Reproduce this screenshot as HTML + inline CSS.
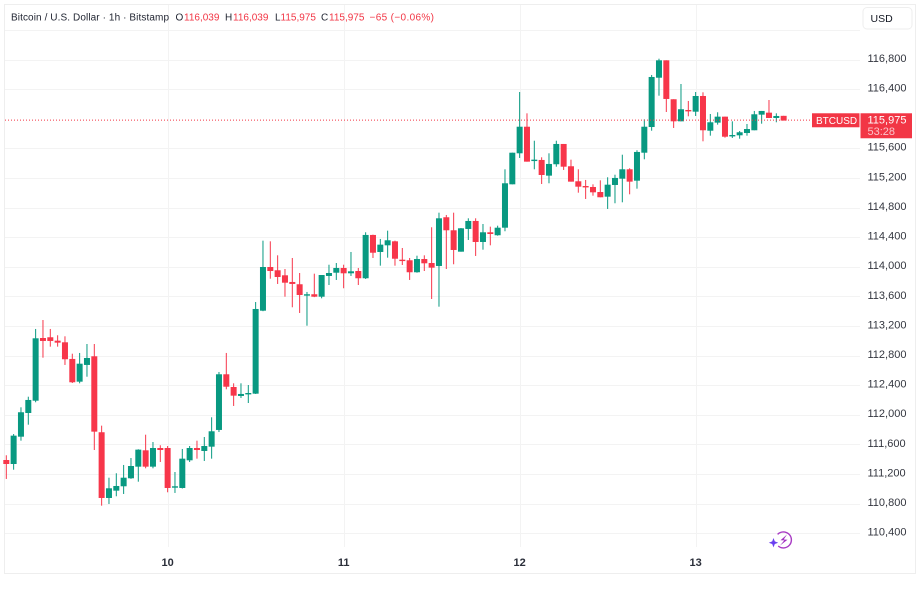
<!DOCTYPE html>
<html lang="en">
<head>
<meta charset="utf-8">
<title>Bitcoin / U.S. Dollar 1h chart</title>
<style>
html,body{margin:0;padding:0;background:#fff;width:919px;height:591px;overflow:hidden}
svg{display:block;filter:blur(.3px)}
text{font-family:"Liberation Sans",sans-serif}
</style>
</head>
<body>
<svg id="chart" xmlns="http://www.w3.org/2000/svg" width="919" height="591" viewBox="0 0 919 591">
  <rect x="4.5" y="4.5" width="911" height="569" fill="#fff" stroke="#eeeeee"/>
  <g id="grid"></g>
  <g id="candles"></g>
  <g id="yaxis"></g>
  <g id="xaxis"></g>
  <g font-size="10">
    <text x="11" y="20.5" fill="#1f2330" textLength="158">Bitcoin / U.S. Dollar · 1h · Bitstamp</text>
    <text x="175.5" y="20.5" fill="#1f2330">O</text>
    <text x="184" y="20.5" fill="#f23645">116,039</text>
    <text x="225" y="20.5" fill="#1f2330">H</text>
    <text x="233" y="20.5" fill="#f23645">116,039</text>
    <text x="275" y="20.5" fill="#1f2330">L</text>
    <text x="280.5" y="20.5" fill="#f23645">115,975</text>
    <text x="321" y="20.5" fill="#1f2330">C</text>
    <text x="329" y="20.5" fill="#f23645">115,975</text>
    <text x="369.5" y="20.5" fill="#f23645" textLength="64.5">−65 (−0.06%)</text>
  </g>
  <g>
    <rect x="863" y="7.5" width="49" height="21.5" rx="4" fill="#fff" stroke="#eeeeee"/>
    <text x="870.5" y="22" font-size="10.5" fill="#131722">USD</text>
  </g>
  <g id="last-price"></g>
  <g>
    <path d="M777.6 534.4 A8 8 0 1 1 778.2 546" fill="none" stroke="#a83bc4" stroke-width="1.4"/>
    <path d="M787 534.5 L780.5 540.2 L784.3 540.4 L780 545.5 L787.5 539.8 L783.7 539.5 Z" fill="#a02fc0"/>
    <path d="M773.5 538 L774.8 541.4 L778.2 542.7 L774.8 544 L773.5 547.4 L772.2 544 L768.8 542.7 L772.2 541.4 Z" fill="#6a3ff0"/>
  </g>
</svg>
<script>
const opens = [111390,111336,111705,112025,112191,113038,113048,113002,112980,112755,112448,112674,112791,111765,110877,110976,111035,111143,111300,111521,111300,111552,111552,111016,111012,111386,111552,111512,111570,111796,112548,112376,112255,112282,112286,113407,113997,113953,113885,113795,113764,113619,113629,113596,113876,113920,113984,113912,113943,113845,114430,114200,114290,114344,114096,114088,113926,114105,114051,114011,114669,114493,114204,114511,114619,114335,114466,114426,114528,115114,115533,115892,115429,115443,115231,115385,115659,115358,115155,115091,115078,115010,114947,115105,115190,115317,115163,115541,115888,116554,116789,116263,115965,116118,116095,116307,115838,115947,116028,115767,115776,115807,115844,116055,116082,116010,116039];
const highs = [111454,111741,112102,112245,113160,113281,113160,113075,113061,112826,112836,112957,112957,111854,111151,111211,111323,111417,111535,111732,111633,111589,111579,111228,111539,111579,111651,111701,111967,112579,112836,112426,112426,112403,113524,114353,114344,114155,113970,114119,113916,113660,113907,113889,114028,114051,114028,114200,113984,114466,114434,114376,114488,114353,114254,114119,114150,114155,114534,114731,114700,114731,114524,114655,114655,114578,114542,114555,115317,115541,116361,116073,115703,115479,115533,115703,115659,115447,115317,115173,115114,115168,115209,115244,115514,115331,115574,115992,116591,116811,116789,116263,116469,116240,116361,116357,116064,116087,116028,115965,115834,115929,116105,116105,116253,116073,116039];
const lows = [111134,111259,111651,111867,112170,112772,112921,112921,112674,112430,112426,112515,111525,110773,110796,110900,110931,111135,111097,111278,111278,111363,110954,110945,111005,111363,111408,111377,111408,111768,112345,112120,112228,112160,112282,113400,113839,113768,113596,113453,113376,113204,113590,113574,113754,113822,113710,113876,113754,113835,114119,114015,114123,114015,114024,113822,113920,113943,113565,113461,113970,114034,114204,114362,114146,114231,114290,114420,114480,115114,115470,115420,115317,115118,115128,115352,115308,115150,115001,114916,114960,114939,114781,114858,114871,114979,115055,115452,115838,116311,116091,115875,115965,116033,116037,115695,115771,115920,115744,115740,115730,115771,115844,115933,116010,115952,115975];
const closes = [111336,111719,112035,112201,113034,112998,112998,112975,112751,112440,112691,112768,111773,110877,111008,111039,111151,111309,111530,111300,111552,111525,111012,111035,111408,111552,111525,111579,111778,112548,112380,112259,112282,112295,113430,113997,113943,113862,113785,113768,113619,113629,113596,113889,113916,113984,113912,113939,113845,114430,114190,114299,114358,114109,114078,113926,114105,114047,113988,114655,114493,114227,114520,114619,114335,114466,114443,114528,115128,115541,115892,115420,115447,115240,115389,115659,115352,115150,115082,115082,115006,114939,115109,115200,115317,115150,115551,115892,116564,116789,116267,115965,116128,116105,116307,115844,115952,116028,115757,115780,115817,115861,116060,116105,116010,116037,115975];
const priceTicks = [117200,116800,116400,115600,115200,114800,114400,114000,113600,113200,112800,112400,112000,111600,111200,110800,110400];
const labeledTicks = [116800,116400,115600,115200,114800,114400,114000,113600,113200,112800,112400,112000,111600,111200,110800,110400];
const dayLabels = ["10","11","12","13"];
const dayIndexes = [22,46,70,94];
const lastPrice = 115975;
const lastPriceText = "115,975";
const countdownText = "53:28";
const symbolText = "BTCUSD";

const NS = "http://www.w3.org/2000/svg";
const UP = "#089981";
const DOWN = "#f7364a";
function xScale(i){ return 6.3 + i * 7.3335; }
function yScale(p){ return 59.5 + (116800 - p) * 0.07403; }
function fmt(n){ return String(n).replace(/\B(?=(\d{3})+$)/g, ","); }
function make(tag, attrs, parent){
  const el = document.createElementNS(NS, tag);
  for (const k in attrs) el.setAttribute(k, attrs[k]);
  parent.appendChild(el);
  return el;
}

const grid = document.getElementById("grid");
priceTicks.forEach(function(p){
  const y = Math.round(yScale(p)) + 0.5;
  const el = make("line", {x1:5, x2:860, y1:y, y2:y, stroke:"#f3f3f3"}, grid);
  
  
});
dayIndexes.forEach(function(i){
  const x = Math.round(xScale(i)) + 0.5;
  const el = make("line", {x1:x, x2:x, y1:5, y2:547, stroke:"#f3f3f3"}, grid);
  
  
});

const yaxis = document.getElementById("yaxis");
labeledTicks.forEach(function(p){
  const el = make("text", {x:867.5, y:yScale(p) + 2.4, "font-size":11, fill:"#33363f"}, yaxis);
  el.textContent = fmt(p);
  
  
});

const xaxis = document.getElementById("xaxis");
dayLabels.forEach(function(d, k){
  const el = make("text", {x:xScale(dayIndexes[k]), y:566, "font-size":11, "font-weight":"bold", "text-anchor":"middle", fill:"#2a2e39"}, xaxis);
  el.textContent = d;
  
  
});

const candles = document.getElementById("candles");
opens.forEach(function(o, i){
  const c = closes[i];
  const color = c >= o ? UP : DOWN;
  const x = xScale(i);
  const wick = make("line", {x1:x, x2:x, y1:yScale(highs[i]), y2:yScale(lows[i]), stroke:color, "stroke-width":1}, candles);
  
  
  const top = yScale(Math.max(o, c));
  const h = Math.max(1.4, Math.abs(yScale(o) - yScale(c)));
  const body = make("rect", {x:x - 3, y:top, width:6, height:h, fill:color}, candles);
  
  
});

const lp = document.getElementById("last-price");
const ly = yScale(lastPrice);
const lpLine = make("line", {x1:5, x2:812, y1:ly - 0.4, y2:ly - 0.4, stroke:"#f23645", "stroke-width":1, "stroke-dasharray":"1 2"}, lp);


const symBox = make("rect", {x:812, y:ly - 7.3, width:47.5, height:14, fill:"#f23645"}, lp);


const symTxt = make("text", {x:816, y:ly + 3.2, "font-size":10, fill:"#fff"}, lp);
symTxt.textContent = symbolText;


const priceBox = make("rect", {x:860.5, y:ly - 7.3, width:51.5, height:25, fill:"#f23645"}, lp);


const priceTxt = make("text", {x:867.5, y:ly + 2.8, "font-size":11, fill:"#fff"}, lp);
priceTxt.textContent = lastPriceText;


const cdTxt = make("text", {x:867.5, y:ly + 14.4, "font-size":11, fill:"#fbc4ca"}, lp);
cdTxt.textContent = countdownText;


</script>
</body>
</html>
